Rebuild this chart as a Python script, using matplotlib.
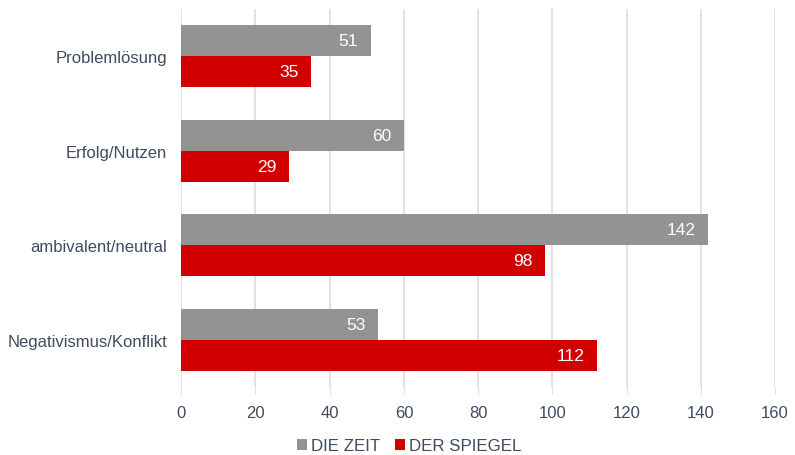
import numpy as np
import matplotlib.pyplot as plt

categories = ["Problemlösung", "Erfolg/Nutzen", "ambivalent/neutral", "Negativismus/Konflikt"]
die_zeit = [51, 60, 142, 53]
der_spiegel = [35, 29, 98, 112]
xticks = [0, 20, 40, 60, 80, 100, 120, 140, 160]

text_col = "#3f4b5e"
grau = "#939393"
rot = "#d10000"

plt.rcParams['font.family'] = ['Liberation Sans', 'DejaVu Sans']

fig = plt.figure(figsize=(7.95, 4.56), dpi=100)
ax = fig.add_axes([0.228, 0.149, 0.747, 0.829])

y = np.arange(len(categories))
h = 0.33
b1 = ax.barh(y - h / 2, die_zeit, height=h, color=grau, label="DIE ZEIT", zorder=3)
b2 = ax.barh(y + h / 2, der_spiegel, height=h, color=rot, label="DER SPIEGEL", zorder=3)

# Werte innen am Balkenende
for bars, vals in [(b1, die_zeit), (b2, der_spiegel)]:
    for bar, v in zip(bars, vals):
        ax.text(v - 3.4, bar.get_y() + bar.get_height() / 2, str(v),
                ha="right", va="center", color="white", fontsize=12.5, zorder=4)

ax.set_ylim(len(categories) - 0.5, -0.5)
ax.set_xlim(0, 160)
ax.set_xticks(xticks)
ax.set_yticks(y)
ax.set_yticklabels(categories)
ax.tick_params(axis="y", length=0, pad=10, labelsize=12, colors=text_col)
ax.tick_params(axis="x", length=5, color="#dcdde3", pad=8, labelsize=12, colors=text_col)
ax.grid(axis="x", color="#dcdde3", linewidth=1.2, zorder=0)
for s in ax.spines.values():
    s.set_visible(False)

leg = fig.legend(loc="lower center", bbox_to_anchor=(0.515, -0.03), ncol=2, frameon=False,
                 fontsize=12.2, handlelength=0.55, handleheight=0.55, handletextpad=0.25,
                 columnspacing=0.9)
for t in leg.get_texts():
    t.set_color(text_col)

fig.savefig("out.png", dpi=100)
